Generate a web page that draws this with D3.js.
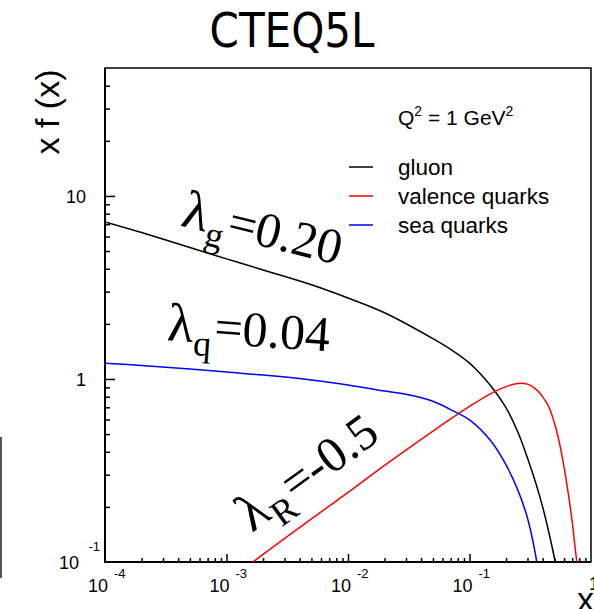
<!DOCTYPE html>
<html>
<head>
<meta charset="utf-8">
<script src="https://cdn.jsdelivr.net/npm/d3@7"></script>
<style>
  html, body { margin: 0; padding: 0; background: #fff; }
  svg { display: block; }
</style>
</head>
<body>
<script>
// Parton distributions x f(x) for CTEQ5L at Q^2 = 1 GeV^2
const gluonX = [1e-4, 2e-4, 5e-4, 1e-3, 2e-3, 5e-3, 0.01, 0.02, 0.05, 0.07, 0.1, 0.12, 0.15, 0.2, 0.25, 0.3, 0.35, 0.4, 0.45, 0.5, 0.52];
const gluonV = [7.21, 6.31, 5.23, 4.53, 3.94, 3.27, 2.77, 2.30, 1.66, 1.45, 1.22, 1.085, 0.915, 0.695, 0.513, 0.37, 0.272, 0.20, 0.145, 0.105, 0.09];

const valenceX = [1e-3, 2e-3, 5e-3, 0.01, 0.02, 0.05, 0.07, 0.1, 0.15, 0.2, 0.25, 0.3, 0.35, 0.4, 0.45, 0.5, 0.55, 0.6, 0.65, 0.7, 0.75, 0.78];
const valenceV = [0.078, 0.110, 0.172, 0.240, 0.337, 0.519, 0.605, 0.708, 0.832, 0.908, 0.944, 0.937, 0.882, 0.798, 0.703, 0.575, 0.447, 0.330, 0.237, 0.166, 0.111, 0.09];

const seaX = [1e-4, 2e-4, 5e-4, 1e-3, 2e-3, 5e-3, 0.01, 0.02, 0.03, 0.05, 0.07, 0.1, 0.15, 0.2, 0.25, 0.3, 0.35, 0.37];
const seaV = [1.22, 1.185, 1.134, 1.09, 1.05, 0.987, 0.927, 0.86, 0.825, 0.755, 0.68, 0.597, 0.458, 0.339, 0.247, 0.174, 0.109, 0.085];

// Axis decades and their labels (base + exponent)
const xMajor = [1e-4, 1e-3, 1e-2, 1e-1, 1];
const xLabelBase = ["10", "10", "10", "10", "1"];
const xLabelExp = ["-4", "-3", "-2", "-1", ""];
const yMajor = [0.1, 1, 10];
const yLabelBase = ["10", "1", "10"];
const yLabelExp = ["-1", "", ""];

const seriesNames = ["gluon", "valence quarks", "sea quarks"];
const seriesColors = ["#000000", "#ff0000", "#0000ff"];

// Slope labels: exponent name, value, anchor (data coords), rotation
const lambdaSubs = ["g", "q", "R"];
const lambdaVals = ["=0.20", "=0.04", "=-0.5"];
const lambdaAtX = [4.1e-4, 3.2e-4, 1.62e-3];
const lambdaAtY = [6.9, 1.63, 0.144];
const lambdaAngle = [14, 4, -36];

const W = 594, H = 609;
const L = 105, R = 591, T = 68, B = 562;

const svg = d3.select("body").append("svg")
  .attr("width", W).attr("height", H)
  .style("font-family", "'Liberation Sans', Arial, sans-serif");

svg.append("rect").attr("width", W).attr("height", H).attr("fill", "#fff");

const x = d3.scaleLog().domain([1e-4, 1]).range([L, R]);
const y = d3.scaleLog().domain([0.1, 50]).range([B, T]);

// minor tick positions inside each decade
function minorTicks(lo, hi) {
  const out = [];
  for (let d = lo; d < hi; d *= 10)
    for (let k = 2; k <= 9; k++) if (d * k < hi) out.push(d * k);
  return out;
}
const xMinor = minorTicks(1e-4, 1);
const yMinor = minorTicks(0.1, 50);

// frame
svg.append("rect")
  .attr("x", L).attr("y", T).attr("width", R - L).attr("height", B - T)
  .attr("fill", "none").attr("stroke", "#000").attr("stroke-width", 1.5);

// ticks (inward)
function styleAxis(g) {
  g.select(".domain").remove();
  g.selectAll(".tick line").attr("stroke", "#000").attr("stroke-width", 1.5);
  g.selectAll(".tick text").remove();
}
svg.append("g").attr("transform", `translate(0,${B})`)
  .call(d3.axisBottom(x).tickValues(xMajor.slice(1, -1)).tickSize(-8).tickSizeOuter(0)).call(styleAxis);
svg.append("g").attr("transform", `translate(0,${B})`)
  .call(d3.axisBottom(x).tickValues(xMinor).tickSize(-4).tickSizeOuter(0)).call(styleAxis);
svg.append("g").attr("transform", `translate(${L},0)`)
  .call(d3.axisLeft(y).tickValues(yMajor.slice(1)).tickSize(-10).tickSizeOuter(0)).call(styleAxis);
svg.append("g").attr("transform", `translate(${L},0)`)
  .call(d3.axisLeft(y).tickValues(yMinor).tickSize(-5).tickSizeOuter(0)).call(styleAxis);

// left and bottom axis lines drawn slightly heavier
svg.append("line").attr("x1", L).attr("x2", L).attr("y1", T).attr("y2", B + 1)
  .attr("stroke", "#000").attr("stroke-width", 2);
svg.append("line").attr("x1", L - 1).attr("x2", R).attr("y1", B).attr("y2", B)
  .attr("stroke", "#000").attr("stroke-width", 2);

// x tick labels
xMajor.forEach((v, i) => {
  const px = x(v);
  if (xLabelExp[i]) {
    svg.append("text").attr("x", px + 3).attr("y", 592).attr("text-anchor", "end")
      .attr("font-size", 18).text(xLabelBase[i]);
    svg.append("text").attr("x", px + 9).attr("y", 578).attr("text-anchor", "start")
      .attr("font-size", 13).text(xLabelExp[i]);
  } else {
    svg.append("text").attr("x", px - 2).attr("y", 590).attr("text-anchor", "start")
      .attr("font-size", 18).text(xLabelBase[i]);
  }
});

// y tick labels
yMajor.forEach((v, i) => {
  const py = y(v);
  if (yLabelExp[i]) {
    svg.append("text").attr("x", 79).attr("y", py + 7).attr("text-anchor", "end")
      .attr("font-size", 18).text(yLabelBase[i]);
    svg.append("text").attr("x", 100).attr("y", py - 11).attr("text-anchor", "end")
      .attr("font-size", 13).text(yLabelExp[i]);
  } else {
    svg.append("text").attr("x", 86).attr("y", py + 7).attr("text-anchor", "end")
      .attr("font-size", 18).text(yLabelBase[i]);
  }
});

// axis titles
svg.append("text").attr("transform", "translate(59,112) rotate(-90)")
  .attr("text-anchor", "middle").attr("font-size", 34).text("x f (x)");
svg.append("text").attr("x", 577).attr("y", 611)
  .attr("font-size", 34).text("x");

// title
svg.append("text").attr("x", 292).attr("y", 47).attr("text-anchor", "middle")
  .attr("font-family", "'DejaVu Sans Condensed', 'DejaVu Sans', sans-serif")
  .attr("font-size", 48).attr("textLength", 165).attr("lengthAdjust", "spacingAndGlyphs")
  .text("CTEQ5L");

// curves
svg.append("clipPath").attr("id", "plotArea")
  .append("rect").attr("x", L).attr("y", T).attr("width", R - L).attr("height", B - T);

const line = d3.line().x(d => x(d[0])).y(d => y(d[1])).curve(d3.curveCatmullRom.alpha(0.5));
const series = [
  d3.zip(gluonX, gluonV),
  d3.zip(valenceX, valenceV),
  d3.zip(seaX, seaV)
];
const plot = svg.append("g").attr("clip-path", "url(#plotArea)");
series.forEach((pts, i) => {
  plot.append("path").datum(pts).attr("d", line)
    .attr("fill", "none").attr("stroke", seriesColors[i]).attr("stroke-width", 1.5);
});

// legend
const q2 = svg.append("text").attr("x", 398).attr("y", 125).attr("font-size", 21);
q2.append("tspan").text("Q");
q2.append("tspan").attr("font-size", 14).attr("dy", -9).text("2");
q2.append("tspan").attr("dy", 9).text(" = 1 GeV");
q2.append("tspan").attr("font-size", 14).attr("dy", -9).text("2");

const legendY = [167, 196, 225];
seriesNames.forEach((name, i) => {
  svg.append("line").attr("x1", 349).attr("x2", 373)
    .attr("y1", legendY[i]).attr("y2", legendY[i])
    .attr("stroke", seriesColors[i]).attr("stroke-width", 1.5);
  svg.append("text").attr("x", 398).attr("y", legendY[i] + 8)
    .attr("font-size", 22.5).text(name);
});

// slope annotations
lambdaSubs.forEach((s, i) => {
  const t = svg.append("text")
    .attr("transform", `translate(${x(lambdaAtX[i])},${y(lambdaAtY[i])}) rotate(${lambdaAngle[i]})`)
    .attr("font-family", "'Liberation Serif', 'Times New Roman', serif")
    .attr("font-size", 50);
  t.append("tspan").attr("font-size", 54).text("λ");
  t.append("tspan").attr("font-size", 36).attr("dy", 13).attr("dx", 1).text(s);
  t.append("tspan").attr("dy", -13).attr("dx", 2).text(lambdaVals[i]);
});

// thin border fragment along the left edge
svg.append("line").attr("x1", 1).attr("x2", 1).attr("y1", 437).attr("y2", 578)
  .attr("stroke", "#555").attr("stroke-width", 2);
</script>
</body>
</html>
